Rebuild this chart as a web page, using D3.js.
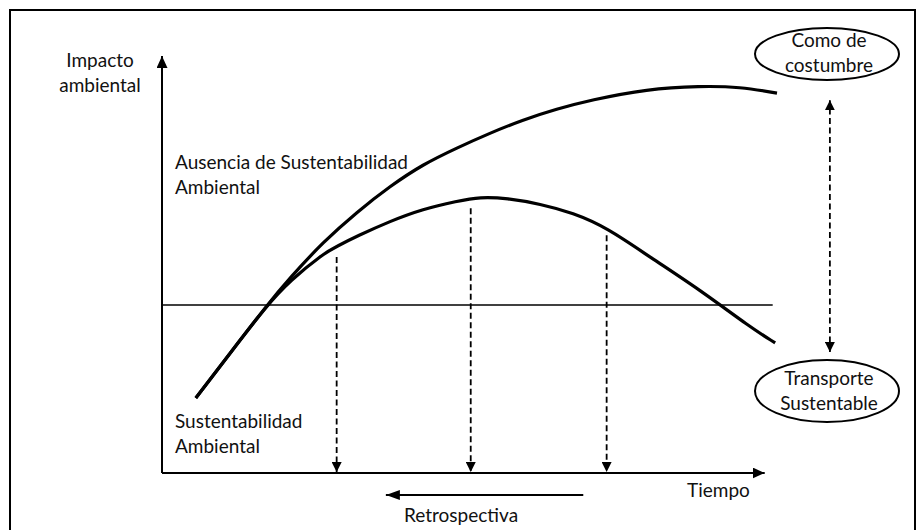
<!DOCTYPE html>
<html>
<head>
<meta charset="utf-8">
<script src="https://cdn.jsdelivr.net/npm/d3@7"></script>
<style>
  body { margin: 0; background: #fff; }
  svg text { font-family: "Lato", "Liberation Sans", sans-serif; font-size: 19px; fill: #111; }
</style>
</head>
<body>
<div id="viz"></div>
<script>
// "as usual" curve (Como de costumbre): time vs environmental impact
const usualTime = [5.5, 11.1, 17.1, 20.8, 26.2, 31.7, 37.1, 42.4, 48, 53.3, 58.7, 64.2, 69.6, 78.9, 87.5, 94, 100];
const usualImpact = [18, 28.8, 40.3, 46.8, 55.4, 62.6, 68.8, 74, 78, 81.5, 84.7, 87.3, 89.4, 92.1, 92.8, 92.6, 91.1];

// sustainable transport curve (Transporte Sustentable)
const sustTime = [5.5, 11.1, 17.1, 20.8, 26.2, 28.5, 31.7, 37.1, 42.4, 48, 51.7, 56.1, 61.5, 66.8, 72.4, 79.3, 87.5, 95.6, 99.7];
const sustImpact = [18, 28.8, 40.3, 46.1, 52.6, 54.4, 56.8, 60.4, 63.3, 65.2, 66.2, 65.9, 64.5, 62.4, 58.8, 51.8, 43.9, 35, 31.2];

// dashed drop lines (time, impact where they start)
const dropTime = [28.4, 50.2, 72.3];
const dropFrom = [51.8, 63.5, 57];

const threshold = 40.3;
const axisEnd = { x: 98, y: 100 };
const thresholdEnd = 99.3;
const retroRange = [68.5, 36.4];

const width = 920, height = 530;

const x = d3.scaleLinear().domain([0, 100]).range([162, 777]);
const y = d3.scaleLinear().domain([0, 100]).range([473, 56]);

const svg = d3.select("#viz").append("svg")
    .attr("width", width)
    .attr("height", height);

// arrow heads
const defs = svg.append("defs");
function marker(id, len, wid) {
    defs.append("marker")
        .attr("id", id)
        .attr("markerUnits", "userSpaceOnUse")
        .attr("viewBox", `0 0 ${len} ${wid}`)
        .attr("markerWidth", len)
        .attr("markerHeight", wid)
        .attr("refX", len)
        .attr("refY", wid / 2)
        .attr("orient", "auto-start-reverse")
        .append("path")
        .attr("d", `M0,0L${len},${wid / 2}L0,${wid}Z`)
        .attr("fill", "#000");
}
marker("axisHead", 12, 11);
marker("dashHead", 10, 10);
marker("retroHead", 14, 10);

// outer frame
svg.append("rect")
    .attr("x", 10).attr("y", 10)
    .attr("width", 905).attr("height", 540)
    .attr("fill", "none")
    .attr("stroke", "#000")
    .attr("stroke-width", 2);

// threshold line
svg.append("line")
    .attr("x1", x(0)).attr("x2", x(thresholdEnd))
    .attr("y1", y(threshold)).attr("y2", y(threshold))
    .attr("stroke", "#000")
    .attr("stroke-width", 1.4);

// axes
svg.append("line")
    .attr("x1", x(0)).attr("y1", y(0))
    .attr("x2", x(0)).attr("y2", y(axisEnd.y))
    .attr("stroke", "#000").attr("stroke-width", 2)
    .attr("marker-end", "url(#axisHead)");
svg.append("line")
    .attr("x1", x(0)).attr("y1", y(0))
    .attr("x2", x(axisEnd.x)).attr("y2", y(0))
    .attr("stroke", "#000").attr("stroke-width", 2)
    .attr("marker-end", "url(#axisHead)");

// curves (basis spline smooths the hand-read points)
const line = d3.line()
    .x(d => x(d[0]))
    .y(d => y(d[1]))
    .curve(d3.curveBasis);

svg.append("path")
    .datum(usualTime.map((t, i) => [t, usualImpact[i]]))
    .attr("d", line)
    .attr("fill", "none")
    .attr("stroke", "#000")
    .attr("stroke-width", 3.2);

svg.append("path")
    .datum(sustTime.map((t, i) => [t, sustImpact[i]]))
    .attr("d", line)
    .attr("fill", "none")
    .attr("stroke", "#000")
    .attr("stroke-width", 3.2);

// dashed drop arrows
svg.selectAll(".drop")
    .data(dropTime)
    .enter()
    .append("line")
    .attr("class", "drop")
    .attr("x1", d => x(d)).attr("x2", d => x(d))
    .attr("y1", (d, i) => y(dropFrom[i]))
    .attr("y2", y(0) - 1)
    .attr("stroke", "#000")
    .attr("stroke-width", 1.8)
    .attr("stroke-dasharray", "6,3.5")
    .attr("marker-end", "url(#dashHead)");

// retrospective arrow
svg.append("line")
    .attr("x1", x(retroRange[0])).attr("x2", x(retroRange[1]))
    .attr("y1", 495).attr("y2", 495)
    .attr("stroke", "#000").attr("stroke-width", 2)
    .attr("marker-end", "url(#retroHead)");

// double dashed arrow between scenarios
const scenarioX = 108.6;
svg.append("line")
    .attr("x1", x(scenarioX)).attr("x2", x(scenarioX))
    .attr("y1", y(29)).attr("y2", y(89.4))
    .attr("stroke", "#000")
    .attr("stroke-width", 1.8)
    .attr("stroke-dasharray", "6,3.5")
    .attr("marker-start", "url(#dashHead)")
    .attr("marker-end", "url(#dashHead)");

// scenario ellipses
const scenarios = [
    { lines: ["Como de", "costumbre"], cy: 54, ry: 26, base: 47 },
    { lines: ["Transporte", "Sustentable"], cy: 391, ry: 31, base: 385 }
];
scenarios.forEach(s => {
    svg.append("ellipse")
        .attr("cx", 827).attr("cy", s.cy)
        .attr("rx", 72).attr("ry", s.ry)
        .attr("fill", "none")
        .attr("stroke", "#000")
        .attr("stroke-width", 2);
    s.lines.forEach((t, i) => {
        svg.append("text")
            .attr("x", 829).attr("y", s.base + i * 25)
            .attr("text-anchor", "middle")
            .text(t);
    });
});

// labels
function label(lines, lx, ly, anchor) {
    lines.forEach((t, i) => {
        svg.append("text")
            .attr("x", lx).attr("y", ly + i * 25)
            .attr("text-anchor", anchor)
            .text(t);
    });
}
label(["Impacto", "ambiental"], 100, 67, "middle");
label(["Ausencia de Sustentabilidad", "Ambiental"], 175, 169, "start");
label(["Sustentabilidad", "Ambiental"], 175, 428, "start");
label(["Tiempo"], 687, 497, "start");
label(["Retrospectiva"], 404, 522, "start");
</script>
</body>
</html>
